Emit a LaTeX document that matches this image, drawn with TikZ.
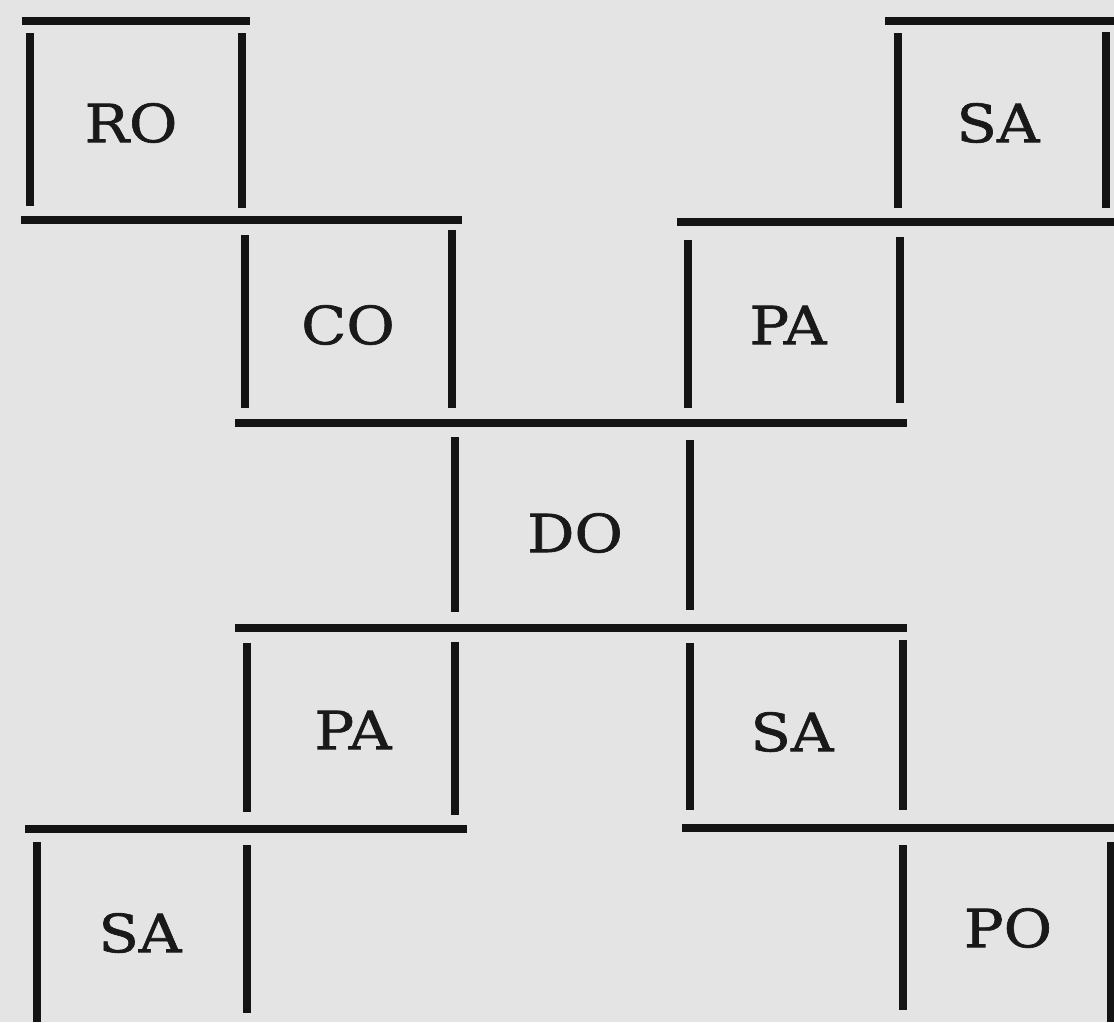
\documentclass[tikz,border=0pt]{standalone}
\usepackage{fontspec}
\setmainfont{DejaVu Serif}
\newfontfamily\cellfont{DejaVu Serif}[FakeStretch=1.12, FakeBold=1.2]
\definecolor{paper}{RGB}{228,228,228}

\begin{document}
\begin{tikzpicture}[
    x=0.02cm, y=-0.02cm,
    bar/.style={draw=black!92, line width=4.6pt},
    cell/.style={font=\fontsize{30}{36}\cellfont, text=black!90, inner sep=0pt}
  ]
    \fill[paper] (0,0) rectangle (1114,1022);
    \useasboundingbox (0,0) rectangle (1114,1022);

    \node[cell] (ro) at (131,123) {RO};
    \node[cell] (sa1) at (998,123) {SA};
    \draw[bar] (22,21) -- (250,21);
    \draw[bar] (885,21) -- (1114,21);
    \draw[bar] (30,33) -- (30,206);
    \draw[bar] (242,33) -- (242,208);
    \draw[bar] (898,33) -- (898,208);
    \draw[bar] (1106,32) -- (1106,208);
    \draw[bar] (21,220) -- (462,220);
    \draw[bar] (677,222) -- (1114,222);

    \node[cell] (co) at (348,325) {CO};
    \node[cell] (pa1) at (788,325) {PA};
    \draw[bar] (245,235) -- (245,408);
    \draw[bar] (452,230) -- (452,408);
    \draw[bar] (688,240) -- (688,408);
    \draw[bar] (900,237) -- (900,403);
    \draw[bar] (235,423) -- (907,423);

    \node[cell] (do) at (575,533) {DO};
    \draw[bar] (455,437) -- (455,612);
    \draw[bar] (690,440) -- (690,610);
    \draw[bar] (235,628) -- (907,628);

    \node[cell] (pa2) at (353,730) {PA};
    \node[cell] (sa2) at (792,732) {SA};
    \draw[bar] (247,643) -- (247,812);
    \draw[bar] (455,642) -- (455,815);
    \draw[bar] (690,643) -- (690,810);
    \draw[bar] (903,640) -- (903,810);
    \draw[bar] (25,829) -- (467,829);
    \draw[bar] (682,828) -- (1114,828);

    \node[cell] (sa3) at (140,933) {SA};
    \node[cell] (po) at (1008,928) {PO};
    \draw[bar] (37,842) -- (37,1022);
    \draw[bar] (247,845) -- (247,1013);
    \draw[bar] (903,845) -- (903,1010);
    \draw[bar] (1111,842) -- (1111,1022);
  \end{tikzpicture}
\end{document}
